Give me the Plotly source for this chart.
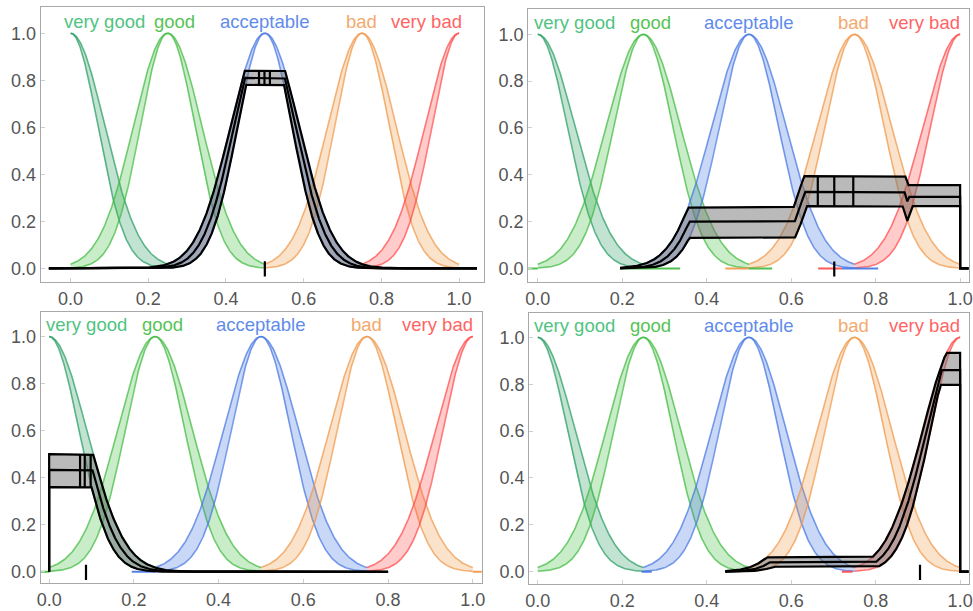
import numpy as np
import plotly.graph_objects as go

# ---------------- data ----------------
SET_NAMES = ["very good", "good", "acceptable", "bad", "very bad"]
CENTERS = [0.0, 0.25, 0.5, 0.75, 1.0]
SIGMA_UPPER = [0.088, 0.088, 0.088, 0.088, 0.088]
SIGMA_LOWER = [0.070, 0.070, 0.070, 0.070, 0.070]
SET_LO = [0.0, 0.0, 0.25, 0.5, 0.75]
SET_HI = [0.25, 0.5, 0.75, 1.0, 1.0]
LABEL_X = [0.088, 0.268, 0.498, 0.748, 0.916]
LABEL_Y = 1.05
TICK_VALUES = [0.0, 0.2, 0.4, 0.6, 0.8, 1.0]
TICK_TEXT = ["0.0", "0.2", "0.4", "0.6", "0.8", "1.0"]

# firing levels per panel: (upper, middle, lower) for each set
FIRING_P1 = [(0, 0, 0), (0, 0, 0), (0.84, 0.81, 0.78), (0, 0, 0), (0, 0, 0)]
FIRING_P2 = [(0, 0, 0), (0, 0, 0), (0.26, 0.20, 0.13), (0.394, 0.327, 0.266), (0.356, 0.306, 0.266)]
FIRING_P3 = [(0.50, 0.433, 0.36), (0, 0, 0), (0, 0, 0), (0, 0, 0), (0, 0, 0)]
FIRING_P4 = [(0, 0, 0), (0, 0, 0), (0, 0, 0), (0.061, 0.04, 0.021), (0.934, 0.86, 0.797)]
FIRINGS = [FIRING_P1, FIRING_P2, FIRING_P3, FIRING_P4]

# domain of the aggregated output per panel
OUT_DOMAIN = [(-0.056, 1.046), (0.195, 1.02), (-1e-6, 0.8), (0.444, 1.02)]
# centroid interval marks inside the plateau
CENTROID_MARKS = [[0.485, 0.499, 0.513], [0.663, 0.702, 0.747], [0.073, 0.084, 0.098], []]
# defuzzified value per panel
DEFUZZ = [0.5, 0.702, 0.087, 0.905]
# extra coloured segments lying on zero: (set index, x0, x1)
ZERO_SEGMENTS = [
    [],
    [(1, -0.03, 0.0), (1, 0.195, 0.337), (3, 0.444, 0.5), (1, 0.5, 0.555), (4, 0.664, 0.72), (2, 0.72, 0.806)],
    [(1, -0.03, 0.0), (2, 0.195, 0.25), (3, 1.0, 1.03)],
    [(2, 0.246, 0.27), (4, 0.72, 0.745)],
]

# ---------------- style ----------------
LINE_RGB = [(35, 155, 95), (60, 185, 60), (65, 115, 225), (240, 150, 70), (255, 70, 70)]
LABEL_RGB = [(80, 195, 130), (85, 195, 85), (95, 140, 235), (242, 170, 110), (255, 100, 100)]
X_RANGES = [(-0.077, 1.064), (-0.023, 1.021), (-0.020, 1.021), (-0.0206, 1.021)]
Y_RANGES = [(-0.058, 1.11), (-0.058, 1.107), (-0.048, 1.106), (-0.0525, 1.105)]
X_DOMAINS = [(0.0418, 0.4974), (0.5427, 0.9959), (0.0418, 0.4951), (0.5437, 0.9959)]
Y_DOMAINS = [(0.5385, 0.988), (0.5385, 0.9848), (0.0458, 0.4899), (0.0442, 0.4882)]
FONT = "Liberation Sans"


def rgba(c, a):
    return f"rgba({c[0]},{c[1]},{c[2]},{a})"


def gauss(x, c, s):
    return np.exp(-((x - c) ** 2) / (2 * s * s))


def mf(x, c, s):
    y = gauss(x, c, s)
    y[(x < 0) | (x > 1)] = 0.0
    return y


fig = go.Figure()

for p in range(4):
    xa = "x" if p == 0 else f"x{p + 1}"
    ya = "y" if p == 0 else f"y{p + 1}"

    # coloured interval type-2 sets
    for i in range(5):
        xs = np.linspace(SET_LO[i], SET_HI[i], 300)
        up = gauss(xs, CENTERS[i], SIGMA_UPPER[i])
        lo = gauss(xs, CENTERS[i], SIGMA_LOWER[i])
        fig.add_trace(go.Scatter(x=np.concatenate([xs, xs[::-1]]), y=np.concatenate([up, lo[::-1]]),
                                 fill="toself", fillcolor=rgba(LINE_RGB[i], 0.28), line=dict(width=0),
                                 mode="lines", hoverinfo="skip", showlegend=False, xaxis=xa, yaxis=ya))
        for yy in (up, lo):
            fig.add_trace(go.Scatter(x=xs, y=yy, mode="lines", line=dict(color=rgba(LINE_RGB[i], 0.7), width=1.6),
                                     hoverinfo="skip", showlegend=False, xaxis=xa, yaxis=ya))

    for (si, x0, x1) in ZERO_SEGMENTS[p]:
        fig.add_trace(go.Scatter(x=[x0, x1], y=[0, 0], mode="lines",
                                 line=dict(color=rgba(LINE_RGB[si], 0.9), width=2),
                                 hoverinfo="skip", showlegend=False, xaxis=xa, yaxis=ya))

    # aggregated output set
    d0, d1 = OUT_DOMAIN[p]
    xs = np.linspace(d0, d1, 2500)
    xs = np.sort(np.concatenate([xs, [0.0, 1.0, 1.0 + 1e-9] if d1 > 1 else [0.0]]))
    xs = xs[(xs >= d0) & (xs <= d1)]
    curves = []
    for k in range(3):
        vals = np.zeros_like(xs)
        for i in range(5):
            s = [SIGMA_UPPER[i], (SIGMA_UPPER[i] + SIGMA_LOWER[i]) / 2, SIGMA_LOWER[i]][k]
            vals = np.maximum(vals, np.minimum(FIRINGS[p][i][k], mf(xs, CENTERS[i], s)))
        curves.append(vals)
    up, mid, lo = curves
    fig.add_trace(go.Scatter(x=np.concatenate([xs, xs[::-1]]), y=np.concatenate([up, lo[::-1]]),
                             fill="toself", fillcolor="rgba(105,105,105,0.46)", line=dict(width=0),
                             mode="lines", hoverinfo="skip", showlegend=False, xaxis=xa, yaxis=ya))
    for yy in (lo, mid, up):
        fig.add_trace(go.Scatter(x=xs, y=yy, mode="lines", line=dict(color="black", width=2.2),
                                 hoverinfo="skip", showlegend=False, xaxis=xa, yaxis=ya))

    # centroid marks
    vx, vy = [], []
    for m in CENTROID_MARKS[p]:
        j = int(np.argmin(np.abs(xs - m)))
        vx += [m, m, None]
        vy += [lo[j], up[j], None]
    if vx:
        fig.add_trace(go.Scatter(x=vx, y=vy, mode="lines", line=dict(color="black", width=2.2),
                                 hoverinfo="skip", showlegend=False, xaxis=xa, yaxis=ya))

    # defuzzified value tick
    fig.add_trace(go.Scatter(x=[DEFUZZ[p], DEFUZZ[p]], y=[-0.035, 0.03], mode="lines",
                             line=dict(color="black", width=2.2),
                             hoverinfo="skip", showlegend=False, xaxis=xa, yaxis=ya))

    # labels
    for i in range(5):
        fig.add_annotation(x=LABEL_X[i], y=LABEL_Y, xref=xa, yref=ya, text=SET_NAMES[i], showarrow=False,
                           font=dict(family=FONT, size=18.5, color=rgba(LABEL_RGB[i], 1)),
                           xanchor="center", yanchor="middle")

axis_common = dict(showline=True, mirror=True, linecolor="#a8a8a8", linewidth=1, ticks="inside", ticklen=4,
                   tickcolor="#cfcfcf", tickvals=TICK_VALUES, ticktext=TICK_TEXT, showgrid=False, zeroline=False,
                   tickfont=dict(family=FONT, size=18, color="#555555"), fixedrange=True, automargin=False)

layout = dict(width=973, height=611, margin=dict(l=0, r=0, t=0, b=0, autoexpand=False),
              paper_bgcolor="white", plot_bgcolor="white", showlegend=False)
for p in range(4):
    xk = "xaxis" if p == 0 else f"xaxis{p + 1}"
    yk = "yaxis" if p == 0 else f"yaxis{p + 1}"
    ya = "y" if p == 0 else f"y{p + 1}"
    xa = "x" if p == 0 else f"x{p + 1}"
    layout[xk] = dict(axis_common, domain=list(X_DOMAINS[p]), range=list(X_RANGES[p]), anchor=ya)
    layout[yk] = dict(axis_common, domain=list(Y_DOMAINS[p]), range=list(Y_RANGES[p]), anchor=xa)

fig.update_layout(**layout)
fig.write_html("out.html", config={"displayModeBar": False},
               post_script="document.body.style.margin='0';document.body.style.padding='0';")
